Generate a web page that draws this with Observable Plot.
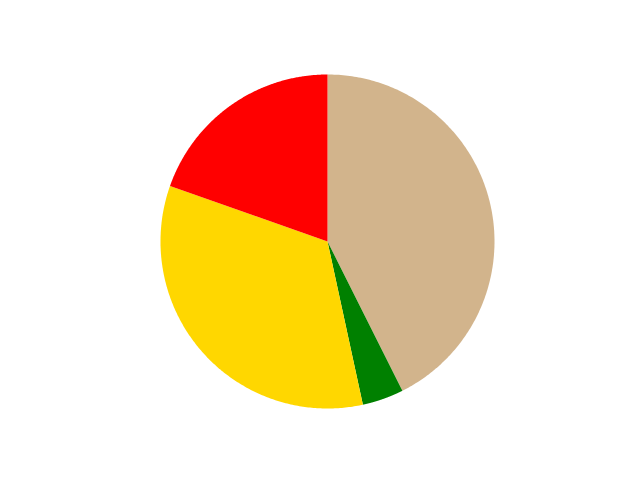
<!DOCTYPE html>
<html>
<head>
<meta charset="utf-8">
<script src="https://cdn.jsdelivr.net/npm/d3@7"></script>
<script src="https://cdn.jsdelivr.net/npm/@observablehq/plot@0.6"></script>
<style>
  html, body { margin: 0; padding: 0; background: #fff; }
</style>
</head>
<body>
<div id="chart"></div>
<script>
const categories = ["A", "B", "C", "D"];
const values = [42.6, 4.0, 33.8, 19.6];
const colors = ["#d2b48c", "#008000", "#ffd700", "#ff0000"];

const pie = d3.pie().sort(null).value(d => d.value);
const arcs = pie(categories.map((c, i) => ({ category: c, value: values[i] })));

const pts = [];
for (const a of arcs) {
  const c = a.data.category;
  pts.push({ category: c, x: 0, y: 0 });
  const n = 200;
  for (let k = 0; k <= n; k++) {
    const t = a.startAngle + (a.endAngle - a.startAngle) * k / n;
    pts.push({ category: c, x: Math.sin(t), y: Math.cos(t) });
  }
  pts.push({ category: c, x: 0, y: 0 });
}

const chart = Plot.plot({
  width: 640,
  height: 480,
  marginLeft: 160,
  marginRight: 146,
  marginTop: 74,
  marginBottom: 72,
  x: { domain: [-1, 1], axis: null },
  y: { domain: [-1, 1], axis: null },
  color: { domain: categories, range: colors },
  marks: [
    Plot.line(pts, { x: "x", y: "y", z: "category", fill: "category", stroke: "none", curve: "linear" })
  ]
});
document.getElementById("chart").appendChild(chart);
</script>
</body>
</html>
